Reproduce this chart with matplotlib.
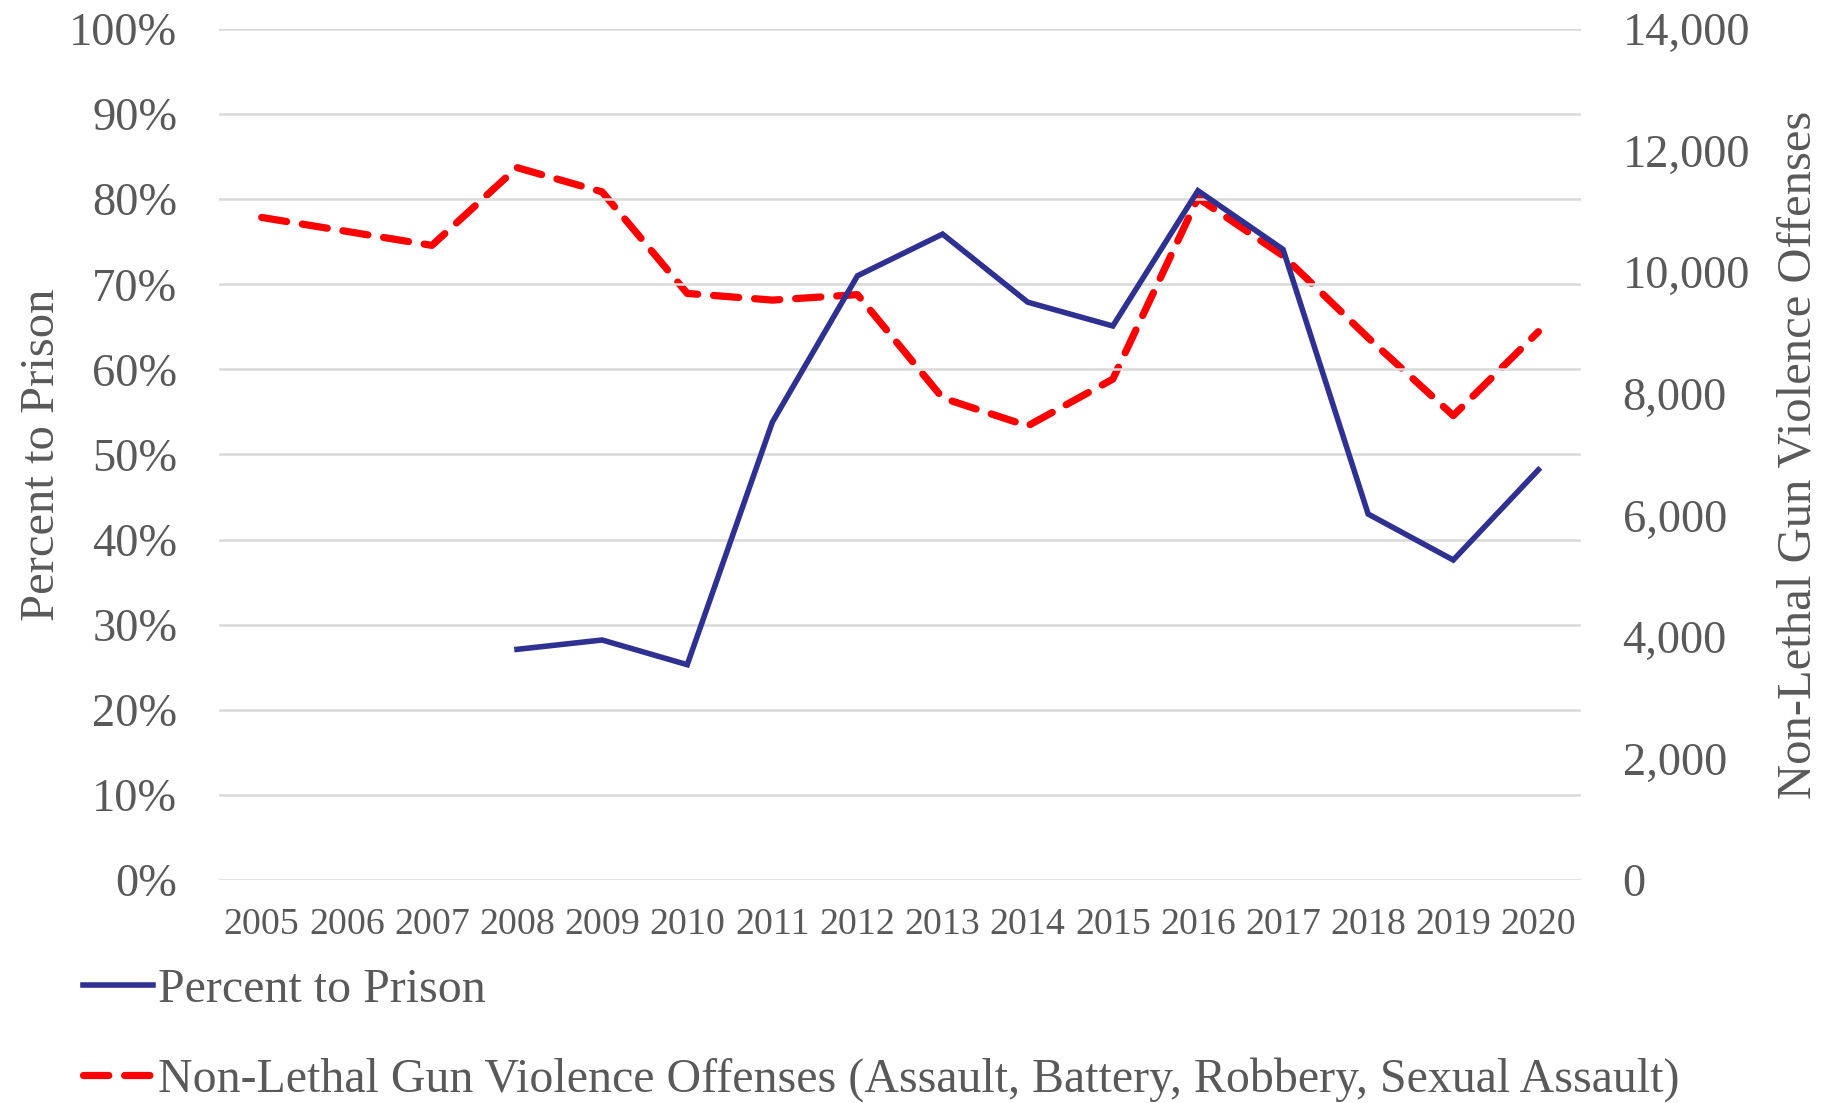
import numpy as np
import matplotlib
matplotlib.use("Agg")
import matplotlib.pyplot as plt
from matplotlib.ticker import FuncFormatter

# data
years = list(range(2005, 2021))
prison_years = list(range(2008, 2021))
pct_prison = [27.1, 28.2, 25.3, 53.8, 71.0, 75.9, 67.9, 65.1, 81.0, 74.1, 43.0, 37.6, 48.2]
offenses = [10900, 10670, 10440, 11720, 11320, 9650, 9540, 9630, 7930, 7470, 8240,
            11220, 10270, 8920, 7640, 9020]

GREY = "#595959"
BLUE = "#2E3192"
RED = "#FF0000"

plt.rcParams['font.family'] = ['Liberation Serif', 'DejaVu Serif']

fig = plt.figure(figsize=(18.26, 11.03), dpi=100)
ax = fig.add_axes([0.12, 0.2022, 0.7458, 0.7715])
ax2 = ax.twinx()

ax.set_xlim(2004.5, 2020.5)
ax.set_ylim(0, 1)
ax2.set_ylim(0, 14000)

ax.set_yticks(np.arange(0, 1.01, 0.1))
ax.yaxis.set_major_formatter(FuncFormatter(lambda v, p: f"{v*100:.0f}%"))
ax2.set_yticks(np.arange(0, 14001, 2000))
ax2.yaxis.set_major_formatter(FuncFormatter(lambda v, p: f"{v:,.0f}"))
ax.set_xticks(years)
ax.set_xticklabels([str(y) for y in years])

ax.grid(axis="y", color="#D9D9D9", lw=1.8)
ax.set_axisbelow(True)
for a in (ax, ax2):
    for s in a.spines.values():
        s.set_visible(False)
    a.tick_params(length=0, colors=GREY)

ax.tick_params(axis="y", labelsize=33.5, pad=30)
ax2.tick_params(axis="y", labelsize=33.5, pad=30)
ax.tick_params(axis="x", labelsize=27.3, pad=20)

ax.set_ylabel("Percent to Prison", fontsize=35, color=GREY, labelpad=4)
ax2.set_ylabel("Non-Lethal Gun Violence Offenses", fontsize=35, color=GREY, labelpad=19)

l1, = ax.plot(prison_years, np.array(pct_prison) / 100, color=BLUE, lw=4.0,
              solid_joinstyle="miter", label="Percent to Prison")
l2, = ax2.plot(years, offenses, color=RED, lw=5.2, dashes=(3.5, 2.2),
               dash_capstyle="round",
               label="Non-Lethal Gun Violence Offenses (Assault, Battery, Robbery, Sexual Assault)")
ax.set_zorder(ax2.get_zorder() + 1)
ax.patch.set_visible(False)

leg = fig.legend(handles=[l1, l2], loc="upper left", bbox_to_anchor=(0.035, 0.14),
                 frameon=False, fontsize=34.5, labelcolor=GREY, handlelength=1.45,
                 handletextpad=0.12, labelspacing=0.95, borderaxespad=0)

fig.savefig("out.png", dpi=100)
